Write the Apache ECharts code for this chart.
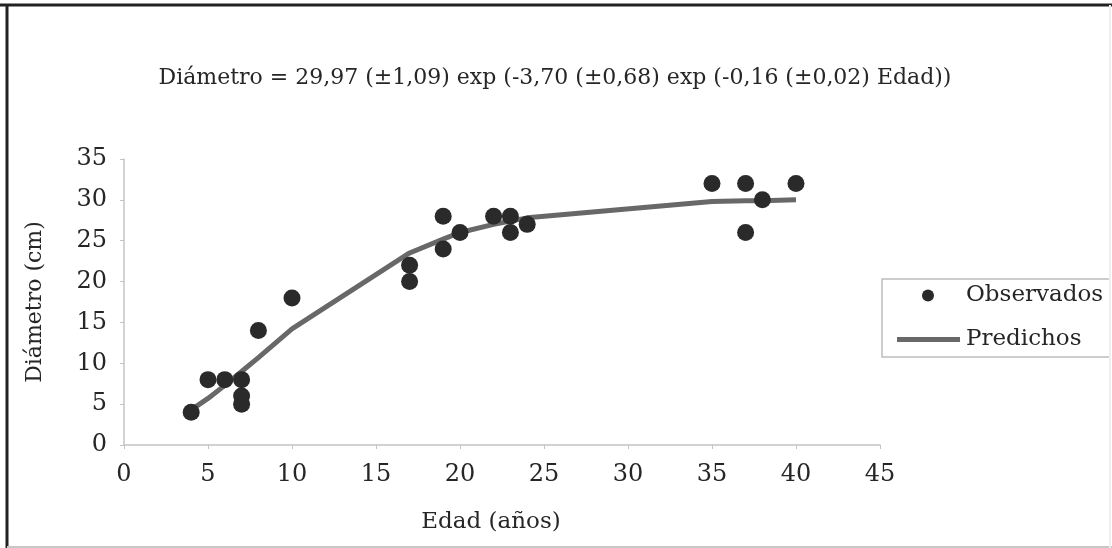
<!DOCTYPE html>
<html><head><meta charset="utf-8">
<script src="https://cdn.jsdelivr.net/npm/echarts@6/dist/echarts.min.js"></script>
<style>html,body{margin:0;padding:0;background:#fff}#c{width:1112px;height:548px}</style>
</head><body><div id="c"></div>
<script>
// Observed data
const obsEdad = [4, 5, 6, 7, 7, 7, 8, 10, 17, 17, 19, 19, 20, 22, 23, 23, 24, 35, 37, 37, 38, 40];
const obsDiam = [4, 8, 8, 8, 6, 5, 14, 18, 22, 20, 28, 24, 26, 28, 28, 26, 27, 32, 32, 26, 30, 32];
// Predicted curve (read at observed ages)
const predEdad = [4, 5, 6, 7, 8, 10, 17, 19, 20, 22, 23, 24, 35, 37, 38, 40];
const predDiam = [4.3, 5.7, 7.3, 9.0, 10.7, 14.2, 23.5, 25.2, 26.0, 27.0, 27.4, 27.8, 29.8, 29.9, 29.9, 30.0];
const xTicks = [0, 5, 10, 15, 20, 25, 30, 35, 40, 45];
const yTicks = [0, 5, 10, 15, 20, 25, 30, 35];
const titleText = 'Diámetro = 29,97 (±1,09) exp (-3,70 (±0,68) exp (-0,16 (±0,02) Edad))';

const FONT = 'DejaVu Serif';
const TXT = '#262626';
const chart = echarts.init(document.getElementById('c'), null, {renderer: 'canvas'});
chart.setOption({
  animation: false,
  backgroundColor: '#fff',
  title: {
    text: titleText, left: 550, top: 62, textAlign: 'center',
    textStyle: {fontFamily: FONT, fontSize: 22, fontWeight: 'normal', color: TXT}
  },
  grid: {left: 124, right: 232, top: 159, bottom: 103},
  xAxis: {
    type: 'value', min: xTicks[0], max: xTicks[xTicks.length - 1], interval: 5,
    name: 'Edad (años)', nameLocation: 'middle', nameGap: 66,
    nameTextStyle: {fontFamily: FONT, fontSize: 23, color: TXT, padding: [0, 22, 0, 0]},
    axisLine: {show: true, lineStyle: {color: '#c4c4c4', width: 1.5}},
    axisTick: {show: true, length: 4, lineStyle: {color: '#c4c4c4'}},
    axisLabel: {fontFamily: FONT, fontSize: 24, color: TXT, margin: 18},
    splitLine: {show: false}
  },
  yAxis: {
    type: 'value', min: yTicks[0], max: yTicks[yTicks.length - 1], interval: 5,
    name: 'Diámetro (cm)', nameLocation: 'middle', nameGap: 78, nameRotate: 90,
    nameTextStyle: {fontFamily: FONT, fontSize: 22, color: TXT},
    axisLine: {show: true, lineStyle: {color: '#c4c4c4', width: 1.5}},
    axisTick: {show: true, length: 4, lineStyle: {color: '#c4c4c4'}},
    axisLabel: {fontFamily: FONT, fontSize: 24, color: TXT, margin: 17},
    splitLine: {show: false}
  },
  legend: [{
    data: [{name: 'Observados', icon: 'circle'}],
    left: 922, top: 284, itemWidth: 12, itemHeight: 12, padding: 0,
    textStyle: {fontFamily: FONT, fontSize: 23, color: TXT, padding: [0, 0, 0, 27]}
  }, {
    data: [{name: 'Predichos', icon: 'rect'}],
    left: 897, top: 328, itemWidth: 63, itemHeight: 5, padding: 0, itemGap: 0,
    textStyle: {fontFamily: FONT, fontSize: 23, color: TXT, padding: [0, 0, 0, 1]}
  }],
  graphic: [
    {type: 'rect', shape: {x: 882, y: 279, width: 228, height: 78}, style: {fill: 'none', stroke: '#bdbdbd', lineWidth: 1.5}, z: 0},
    {type: 'line', shape: {x1: 0, y1: 5, x2: 1112, y2: 5}, style: {stroke: '#222', lineWidth: 3}},
    {type: 'line', shape: {x1: 7, y1: 5, x2: 7, y2: 548}, style: {stroke: '#222', lineWidth: 3}},
    {type: 'line', shape: {x1: 7, y1: 547, x2: 1112, y2: 547}, style: {stroke: '#c8c8c8', lineWidth: 2}},
    {type: 'line', shape: {x1: 1110, y1: 5, x2: 1110, y2: 548}, style: {stroke: '#efefef', lineWidth: 2}}
  ],
  series: [{
    name: 'Predichos', type: 'line', z: 2,
    data: predEdad.map((x, i) => [x, predDiam[i]]),
    showSymbol: false, symbol: 'none',
    lineStyle: {color: '#686868', width: 5},
    itemStyle: {color: '#686868'}
  }, {
    name: 'Observados', type: 'scatter', z: 3,
    data: obsEdad.map((x, i) => [x, obsDiam[i]]),
    symbol: 'circle', symbolSize: 17,
    itemStyle: {color: '#2a2a2a', opacity: 1}
  }]
});
</script></body></html>
